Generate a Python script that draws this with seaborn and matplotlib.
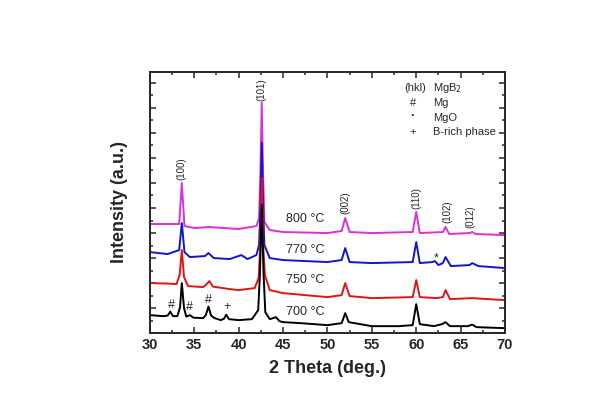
import pandas as pd
import seaborn as sns
import matplotlib.pyplot as plt
from matplotlib.ticker import MultipleLocator

# XRD patterns (2 theta in deg., intensity in a.u., already stacked as plotted)
x_700 = [30, 31.5, 32.0, 32.3, 32.6, 33.1, 33.4, 33.6, 33.85, 34.1, 34.5, 34.9, 36.0, 36.3, 36.6, 36.9,
         37.3, 38.0, 38.35, 38.6, 38.9, 40, 41.5, 42.2, 42.4, 42.6, 42.8, 43.0, 43.5, 44.2, 44.6, 45, 47,
         50, 51.6, 52.0, 52.4, 55, 58, 59.6, 60.0, 60.4, 62, 62.9, 63.3, 63.8, 65.8, 66.3, 66.8, 70]
y_700 = [180, 170, 175, 215, 170, 170, 260, 500, 250, 165, 180, 155, 150, 180, 265, 175,
         150, 130, 145, 185, 140, 130, 140, 230, 600, 1280, 600, 210, 140, 160, 120, 110, 100,
         80, 100, 200, 110, 70, 70, 80, 290, 90, 70, 90, 110, 70, 70, 85, 60, 50]

x_750 = [30, 32, 33.0, 33.35, 33.6, 33.85, 34.3, 36, 36.4, 36.7, 37.1, 39, 40, 41.8, 42.25, 42.45, 42.6,
         42.75, 42.95, 43.5, 45, 50, 51.6, 52.0, 52.5, 55, 59.6, 60.0, 60.4, 62.3, 63.0, 63.3, 63.8,
         66.3, 70]
y_750 = [500, 495, 490, 580, 830, 560, 470, 460, 490, 520, 465, 440, 430, 450, 550, 900, 1550,
         900, 580, 430, 400, 360, 380, 500, 370, 350, 360, 530, 360, 350, 360, 430, 340,
         350, 330]

x_770 = [30, 32, 33.3, 33.6, 33.9, 34.5, 36.2, 36.6, 37.2, 39, 40.3, 41, 42.0, 42.3, 42.45, 42.6, 42.75,
         42.9, 43.5, 45, 50, 51.6, 52.0, 52.5, 55, 59.6, 60.0, 60.4, 61.8, 62.1, 62.5, 63.0, 63.3, 63.9,
         66.0, 66.3, 67, 70]
y_770 = [810, 790, 830, 1100, 810, 760, 770, 800, 750, 740, 780, 740, 780, 880, 1250, 1900, 1250,
         880, 750, 730, 710, 730, 850, 710, 700, 710, 910, 700, 710, 720, 680, 700, 760, 670,
         680, 700, 670, 650]

x_800 = [30, 33.3, 33.6, 33.9, 35, 36.7, 40, 42.0, 42.3, 42.45, 42.6, 42.75, 42.9, 43.5, 45, 50, 51.6,
         52.0, 52.5, 55, 59.6, 60.0, 60.4, 63.0, 63.3, 63.7, 66.0, 66.3, 66.7, 70]
y_800 = [1090, 1090, 1500, 1070, 1050, 1060, 1040, 1070, 1150, 1600, 2300, 1600, 1110, 1030, 1010,
         1000, 1020, 1150, 1010, 1000, 1010, 1210, 1000, 1010, 1060, 990, 1000, 1010, 990, 980]

temps = ["800 °C", "770 °C", "750 °C", "700 °C"]
colors = ["#d930d9", "#1414c8", "#e01414", "black"]
temp_label_y = [1140, 830, 530, 210]

# peak labels for MgB2 (hkl)
hkl_labels = ["(100)", "(101)", "(002)", "(110)", "(102)", "(012)"]
hkl_x = [33.6, 42.6, 52.0, 60.0, 63.45, 66.1]
hkl_y = [1640, 2430, 1300, 1350, 1210, 1160]

# impurity markers
mark_text = ["#", "#", "#", "+", "*"]
mark_x = [32.4, 34.5, 36.65, 38.7, 62.2]
mark_y = [285, 260, 335, 260, 750]

sns.set_style("ticks")
plt.rcParams['font.family'] = ['Liberation Sans', 'DejaVu Sans']

fig = plt.figure(figsize=(5.9, 3.99), dpi=100)
ax = fig.add_axes([0.254, 0.165, 0.602, 0.655])

curves = [(x_800, y_800), (x_770, y_770), (x_750, y_750), (x_700, y_700)]
for (xs, ys), c in zip(curves, colors):
    df = pd.DataFrame({'theta': xs, 'intensity': ys})
    sns.lineplot(data=df, x='theta', y='intensity', color=c, lw=1.4,
                 estimator=None, sort=False, ax=ax)

for t, yy in zip(temps, temp_label_y):
    ax.text(45.3, yy, t, fontsize=9, va='center', ha='left')

for lab, xx, yy in zip(hkl_labels, hkl_x, hkl_y):
    ax.text(xx, yy, lab, fontsize=7, rotation=90, ha='center', va='center')

for m, xx, yy in zip(mark_text, mark_x, mark_y):
    ax.text(xx, yy, m, fontsize=9, ha='center', va='center')

# phase key in the upper right corner
ax.text(58.7, 2450, "(hkl)", fontsize=8, va='center')
ax.text(61.9, 2450, "MgB$_2$", fontsize=8, va='center')
ax.text(59.6, 2300, "#", fontsize=8, va='center', ha='center')
ax.text(61.9, 2300, "Mg", fontsize=8, va='center')
ax.text(59.6, 2170, "·", fontsize=9, va='center', ha='center', fontweight='bold')
ax.text(61.9, 2150, "MgO", fontsize=8, va='center')
ax.text(59.6, 2010, "+", fontsize=8, va='center', ha='center')
ax.text(61.9, 2010, "B-rich phase", fontsize=8, va='center')

ax.set_xlim(30, 70)
ax.set_ylim(0, 2610)
ax.xaxis.set_major_locator(MultipleLocator(5))
ax.xaxis.set_minor_locator(MultipleLocator(2.5))
ax.yaxis.set_major_locator(MultipleLocator(250))
ax.yaxis.set_minor_locator(MultipleLocator(125))
ax.tick_params(which='both', direction='in', top=True, right=True, width=1.1)
ax.tick_params(which='major', length=4)
ax.tick_params(which='minor', length=2.5)
ax.tick_params(axis='y', labelleft=False)
for lab in ax.get_xticklabels():
    lab.set_fontweight('bold')
    lab.set_fontsize(10.5)
for s in ax.spines.values():
    s.set_linewidth(1.4)

ax.set_xlabel("2 Theta (deg.)", fontsize=13, fontweight='bold', labelpad=6)
ax.set_ylabel("Intensity (a.u.)", fontsize=13, fontweight='bold', labelpad=12)

fig.savefig("out.png", dpi=100)
